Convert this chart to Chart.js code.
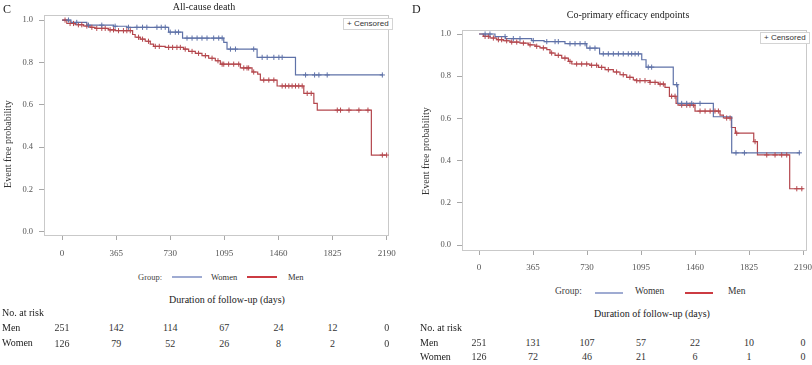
<!DOCTYPE html>
<html><head><meta charset="utf-8">
<script src="https://cdn.jsdelivr.net/npm/chart.js@4.4.0/dist/chart.umd.min.js"></script>
<style>
html,body{margin:0;padding:0;background:#fff;}
#root{position:relative;width:812px;height:365px;overflow:hidden;font-family:"Liberation Serif","Times New Roman",serif;color:#222;}
.t{position:absolute;white-space:nowrap;line-height:1;}
.c{transform:translate(-50%,-50%);}
.l{transform:translateY(-50%);}
.r{transform:translate(-50%,-50%) rotate(-90deg);}
canvas{position:absolute;}
.cens{position:absolute;border:1px solid #d4d4d4;font-family:"Liberation Sans",Arial,sans-serif;font-size:8px;color:#333;line-height:1;padding:1px 3px;background:#fff;}
.leg{position:absolute;height:2px;}
</style></head><body><div id="root">
<canvas id="cC" width="400" height="270" style="left:0;top:0;width:400px;height:270px"></canvas>
<canvas id="cD" width="407" height="285" style="left:405px;top:0;width:407px;height:285px"></canvas>

<div class="t l" style="left:3px;top:9px;font-size:12px;">C</div>
<div class="t c" style="left:204px;top:7px;font-size:10px;">All-cause death</div>
<div class="t r" style="left:8px;top:144px;font-size:10px;color:#333;">Event free probability</div>
<div class="cens" style="left:343px;top:18px;">+ Censored</div>
<div class="t l" style="left:138px;top:277px;font-size:8.5px;color:#444;">Group:</div>
<div class="leg" style="left:172px;top:276px;width:30px;background:#9fabd2;"></div>
<div class="t l" style="left:211px;top:277px;font-size:8.5px;color:#333;">Women</div>
<div class="leg" style="left:247px;top:276px;width:30px;background:#cc3b42;"></div>
<div class="t l" style="left:288px;top:277px;font-size:8.5px;color:#333;">Men</div>
<div class="t c" style="left:227px;top:300px;font-size:10px;">Duration of follow-up (days)</div>
<div class="t l" style="left:2px;top:313px;font-size:10px;">No. at risk</div>
<div class="t l" style="left:2px;top:328px;font-size:10px;">Men</div>
<div class="t l" style="left:2px;top:343px;font-size:10px;">Women</div>

<div class="t l" style="left:412px;top:9px;font-size:12px;">D</div>
<div class="t c" style="left:628px;top:15px;font-size:10px;">Co-primary efficacy endpoints</div>
<div class="t r" style="left:426px;top:151px;font-size:10px;color:#333;">Event free probability</div>
<div class="cens" style="left:760px;top:32px;">+ Censored</div>
<div class="t l" style="left:555px;top:292px;font-size:9.5px;color:#444;">Group:</div>
<div class="leg" style="left:595px;top:292px;width:28px;background:#9fabd2;"></div>
<div class="t l" style="left:635px;top:292px;font-size:9.5px;color:#333;">Women</div>
<div class="leg" style="left:685px;top:292px;width:28px;background:#cc3b42;"></div>
<div class="t l" style="left:728px;top:292px;font-size:9.5px;color:#333;">Men</div>
<div class="t c" style="left:652px;top:314px;font-size:10px;">Duration of follow-up (days)</div>
<div class="t l" style="left:420px;top:328px;font-size:10px;">No. at risk</div>
<div class="t l" style="left:420px;top:343px;font-size:10px;">Men</div>
<div class="t l" style="left:420px;top:357px;font-size:10px;">Women</div>
</div>
<script>
// ---------- data ----------
const xTicks = [0, 365, 730, 1095, 1460, 1825, 2190];
const xTickLabels = ['0', '365', '730', '1095', '1460', '1825', '2190'];
const yTicks = [0, 0.2, 0.4, 0.6, 0.8, 1.0];
const yTickLabels = ['0.0', '0.2', '0.4', '0.6', '0.8', '1.0'];
const groups = ['Women', 'Men'];

// Panel C: All-cause death
const cWomenTime = [0, 60, 167, 347, 437, 719, 813, 1091, 1113, 1316, 1575, 2165];
const cWomenSurv = [1.0, 0.989, 0.976, 0.971, 0.966, 0.943, 0.915, 0.895, 0.863, 0.824, 0.741, 0.741];
const cWomenCensor = [43, 99, 178, 268, 358, 448, 505, 543, 572, 640, 669, 696, 730, 764, 786, 843, 877, 911, 944, 978, 1023, 1057, 1080, 1136, 1170, 1293, 1350, 1384, 1429, 1463, 1485, 1643, 1704, 1733, 1789, 2161];
const cMenTime = [0, 32, 88, 144, 189, 223, 313, 358, 476, 493, 527, 561, 595, 617, 696, 820, 854, 899, 944, 989, 1034, 1068, 1203, 1282, 1320, 1338, 1451, 1631, 1699, 1722, 2087, 2190];
const cMenSurv = [1.0, 0.984, 0.978, 0.972, 0.966, 0.961, 0.954, 0.950, 0.932, 0.919, 0.910, 0.900, 0.887, 0.876, 0.871, 0.863, 0.852, 0.843, 0.832, 0.820, 0.808, 0.792, 0.774, 0.755, 0.745, 0.717, 0.689, 0.654, 0.607, 0.575, 0.363, 0.363];
const cMenCensor = [20, 54, 77, 110, 133, 167, 201, 234, 268, 291, 324, 347, 381, 414, 437, 460, 516, 543, 583, 629, 656, 719, 746, 775, 798, 831, 877, 921, 967, 1012, 1052, 1080, 1091, 1124, 1158, 1192, 1226, 1248, 1259, 1293, 1361, 1395, 1429, 1485, 1507, 1530, 1552, 1575, 1597, 1620, 1654, 1681, 1857, 1879, 1936, 2003, 2064, 2161, 2190];
const cRiskMen = [251, 142, 114, 67, 24, 12, 0];
const cRiskWomen = [126, 79, 52, 26, 8, 2, 0];

// Panel D: Co-primary efficacy endpoints
const dWomenTime = [0, 108, 180, 356, 440, 581, 728, 815, 1100, 1129, 1313, 1343, 1584, 1708, 2170];
const dWomenSurv = [1.0, 0.988, 0.978, 0.969, 0.964, 0.954, 0.933, 0.906, 0.878, 0.843, 0.760, 0.671, 0.608, 0.437, 0.437];
const dWomenCensor = [41, 74, 176, 232, 277, 367, 458, 514, 536, 615, 649, 683, 717, 750, 784, 840, 874, 908, 942, 975, 1009, 1032, 1055, 1077, 1144, 1167, 1336, 1370, 1404, 1438, 1494, 1737, 1794, 2165];
const dMenTime = [0, 29, 74, 120, 164, 210, 277, 333, 379, 412, 458, 480, 514, 559, 604, 627, 750, 807, 852, 908, 953, 998, 1043, 1066, 1156, 1212, 1257, 1287, 1332, 1345, 1460, 1629, 1652, 1706, 1733, 1857, 1882, 2100, 2190];
const dMenSurv = [1.0, 0.989, 0.981, 0.973, 0.968, 0.962, 0.957, 0.949, 0.942, 0.934, 0.926, 0.910, 0.899, 0.886, 0.870, 0.858, 0.852, 0.842, 0.831, 0.820, 0.807, 0.795, 0.783, 0.779, 0.771, 0.763, 0.747, 0.705, 0.671, 0.663, 0.635, 0.616, 0.602, 0.557, 0.530, 0.490, 0.427, 0.267, 0.267];
const dMenCensor = [41, 63, 97, 131, 153, 187, 221, 255, 300, 345, 390, 435, 491, 536, 581, 615, 660, 694, 728, 761, 795, 829, 874, 930, 975, 1020, 1066, 1088, 1122, 1156, 1190, 1224, 1246, 1302, 1325, 1370, 1404, 1426, 1449, 1494, 1528, 1562, 1595, 1618, 1674, 1697, 1742, 1866, 1945, 2001, 2046, 2080, 2148, 2182];
const dRiskMen = [251, 131, 107, 57, 22, 10, 0];
const dRiskWomen = [126, 72, 46, 21, 6, 1, 0];

// ---------- drawing ----------
const WOMEN_COLOR = '#5f72a8';
const MEN_COLOR = '#b4474d';
const SERIF = '"Liberation Serif","Times New Roman",serif';

function stepAt(times, surv, t) {
  let v = surv[0];
  for (let i = 0; i < times.length; i++) { if (times[i] <= t) v = surv[i]; }
  return v;
}
function lineSet(label, times, surv, color) {
  return { label, data: times.map((t, i) => ({ x: t, y: surv[i] })), stepped: true,
    borderColor: color, borderWidth: 1.2, pointRadius: 0, fill: false, order: 2 };
}
function censorSet(label, cens, times, surv, color) {
  return { label: label + ' censored', data: cens.map(t => ({ x: t, y: stepAt(times, surv, t) })),
    showLine: false, pointStyle: 'cross', pointRadius: 2.6, pointBorderWidth: 1,
    borderColor: color, backgroundColor: color, order: 1 };
}
const framePlugin = { id: 'frame', beforeDatasetsDraw(chart) {
  const { ctx, chartArea: a } = chart;
  ctx.save(); ctx.strokeStyle = '#c9c9c9'; ctx.lineWidth = 1;
  ctx.strokeRect(Math.round(a.left) + 0.5, Math.round(a.top) + 0.5, Math.round(a.right - a.left) - 1, Math.round(a.bottom - a.top) - 1);
  ctx.restore();
} };

function makeChart(id, cfg) {
  const zero = s => { s.paddingTop = 0; s.paddingBottom = 0; s.paddingLeft = 0; s.paddingRight = 0; };
  return new Chart(document.getElementById(id), {
    type: 'line',
    data: { datasets: [
      lineSet(groups[0], cfg.wT, cfg.wS, WOMEN_COLOR),
      lineSet(groups[1], cfg.mT, cfg.mS, MEN_COLOR),
      censorSet(groups[0], cfg.wC, cfg.wT, cfg.wS, WOMEN_COLOR),
      censorSet(groups[1], cfg.mC, cfg.mT, cfg.mS, MEN_COLOR)
    ] },
    options: {
      animation: false, responsive: false, devicePixelRatio: 1,
      layout: { padding: { left: cfg.padL, top: cfg.top, right: cfg.padR, bottom: 0 } },
      plugins: { legend: { display: false }, tooltip: { enabled: false }, title: { display: false } },
      scales: {
        x: { type: 'linear', min: cfg.xmin, max: cfg.xmax,
          afterBuildTicks: s => { s.ticks = xTicks.map(v => ({ value: v })); },
          afterFit: s => { s.height = cfg.xh; zero(s); },
          ticks: { callback: (v, i) => xTickLabels[i], font: { family: SERIF, size: 9 }, color: '#555',
            padding: cfg.xpad, maxRotation: 0, autoSkip: false },
          grid: { drawOnChartArea: false, drawTicks: true, tickLength: 4, color: '#a8a8a8' },
          border: { display: false } },
        y: { type: 'linear', min: cfg.ymin, max: cfg.ymax,
          afterBuildTicks: s => { s.ticks = yTicks.map(v => ({ value: v })); },
          afterFit: s => { s.width = cfg.yw; zero(s); },
          ticks: { callback: (v, i) => yTickLabels[i], font: { family: SERIF, size: 8.5 }, color: '#555',
            padding: 6, autoSkip: false },
          grid: { drawOnChartArea: false, drawTicks: true, tickLength: 5, color: '#a8a8a8' },
          border: { display: false },
          title: { display: false } }
      }
    },
    plugins: [framePlugin]
  });
}

function placeRisk(chart, offsetX, rows) {
  const root = document.getElementById('root');
  const sx = chart.scales.x;
  rows.forEach(r => {
    xTicks.forEach((t, i) => {
      const d = document.createElement('div');
      d.className = 't c';
      d.style.left = (offsetX + sx.getPixelForValue(t)) + 'px';
      d.style.top = r.y + 'px';
      d.style.fontSize = '10px';
      d.style.color = '#333';
      d.textContent = String(r.vals[i]);
      root.appendChild(d);
    });
  });
}

const chC = makeChart('cC', { wT: cWomenTime, wS: cWomenSurv, wC: cWomenCensor, mT: cMenTime, mS: cMenSurv, mC: cMenCensor,
  padL: 0, yw: 44, top: 15, padR: 11, xh: 34, xpad: 8,
  xmin: -122, xmax: 2206, ymin: -0.019, ymax: 1.024 });
const chD = makeChart('cD', { wT: dWomenTime, wS: dWomenSurv, wC: dWomenCensor, mT: dMenTime, mS: dMenSurv, mC: dMenCensor,
  padL: 0, yw: 57, top: 30, padR: 5, xh: 34, xpad: 7,
  xmin: -115, xmax: 2217, ymin: -0.028, ymax: 1.019 });

placeRisk(chC, 0, [{ y: 328, vals: cRiskMen }, { y: 344, vals: cRiskWomen }]);
placeRisk(chD, 405, [{ y: 343, vals: dRiskMen }, { y: 357, vals: dRiskWomen }]);
</script>
</body></html>
